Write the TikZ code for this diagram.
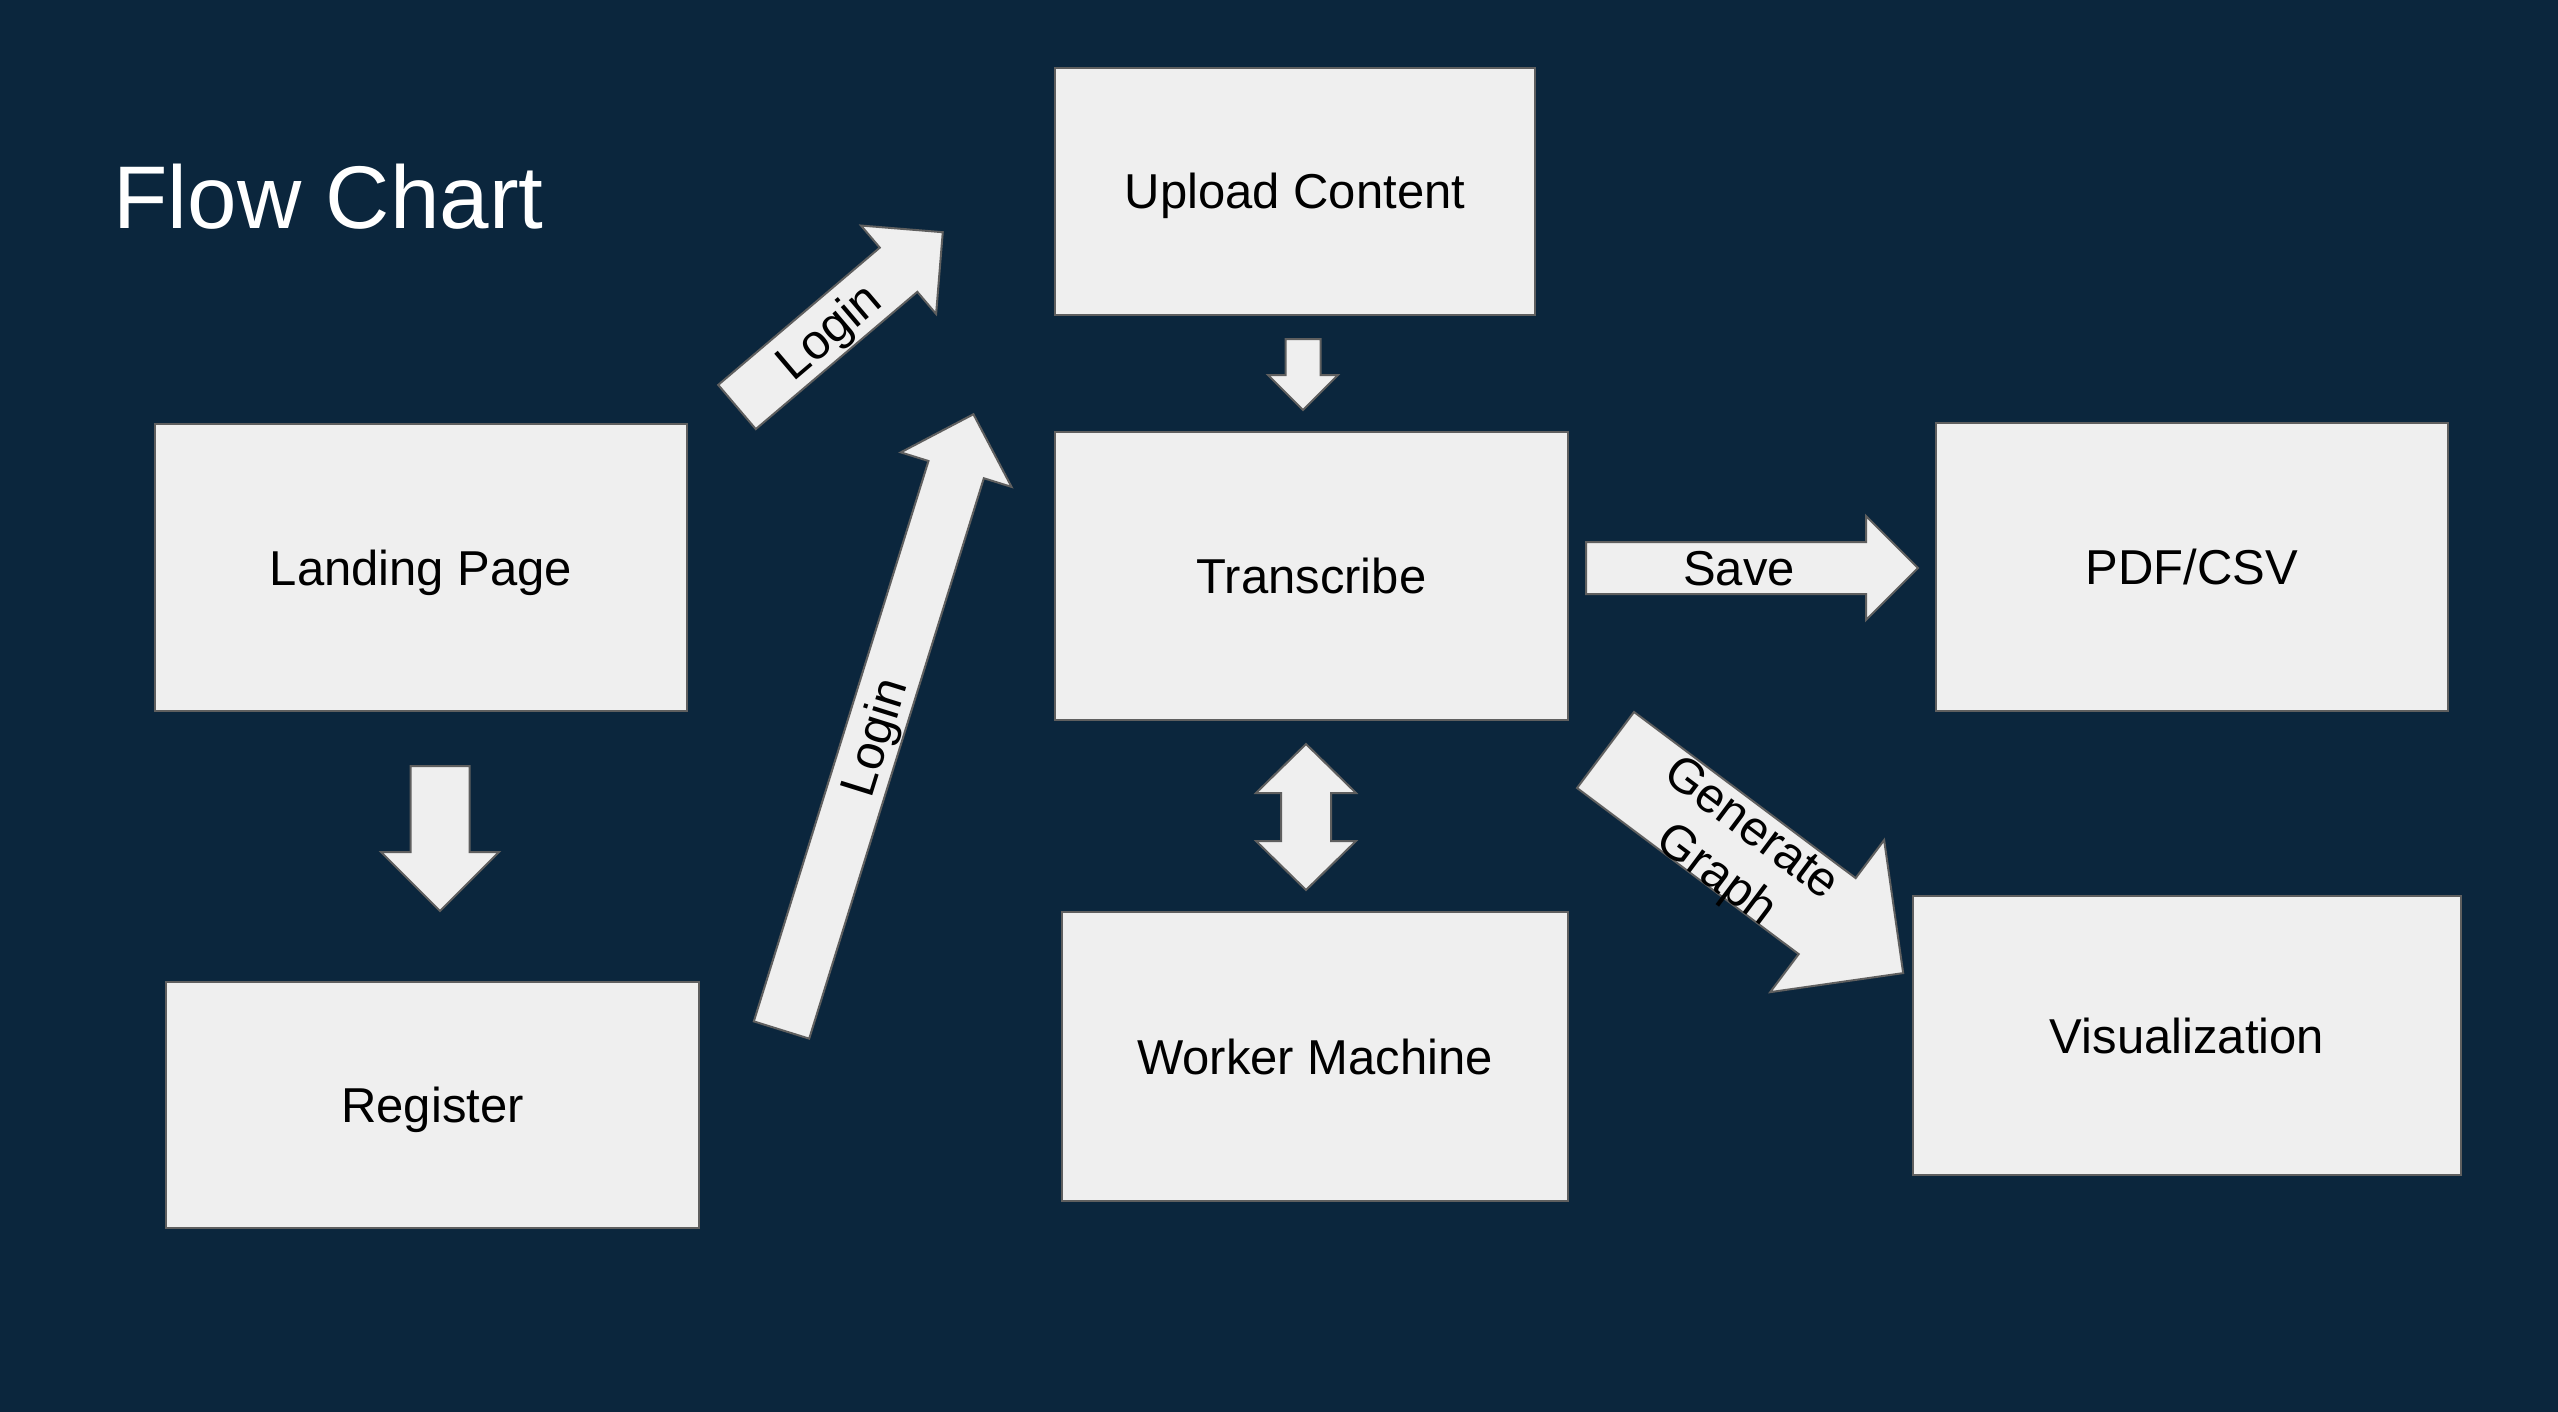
\documentclass[tikz,border=0pt]{standalone}
\usepackage{fontspec}
\setmainfont{Liberation Sans}
\usepackage{tikz}

\definecolor{slidebg}{RGB}{11,38,61}
\definecolor{boxfill}{RGB}{239,239,239}
\definecolor{boxline}{RGB}{95,95,95}

% block arrow along local x: length, shaft width
\newcommand{\blockarrow}[2]{%
  \draw[arrowbody] (0,-#2/2) -- ({#1-#2},-#2/2) -- ({#1-#2},-#2) -- (#1,0)
    -- ({#1-#2},#2) -- ({#1-#2},#2/2) -- (0,#2/2) -- cycle;}

\begin{document}
\begin{tikzpicture}[x=0.5pt, y=-0.5pt,
  box/.style={draw=boxline, fill=boxfill, line width=1pt, rectangle, inner sep=0pt,
    font=\fontsize{24.5}{29}\selectfont, text height=17.5pt, text depth=0pt},
  arrowbody/.style={draw=boxline, fill=boxfill, line width=1pt},
  arrowtext/.style={transform shape, inner sep=0pt, align=center,
    font=\fontsize{24.5}{29}\selectfont, text height=17.5pt, text depth=0pt}]
\useasboundingbox (0,0) rectangle (2558,1412);
\fill[slidebg] (0,0) rectangle (2558,1412);

\node[anchor=base west, inner sep=0pt, text=white, font=\fontsize{44.5}{53}\selectfont] (title) at (113,228.5) {Flow Chart};

% boxes
\node[box, minimum width=266pt, minimum height=143.5pt] (landing) at (421,567.5) {Landing Page};
\node[box, minimum width=266.5pt, minimum height=123pt] (register) at (432.5,1105) {Register};
\node[box, minimum width=240pt, minimum height=123.75pt] (upload) at (1295,191.5) {Upload Content};
\node[box, minimum width=256.5pt, minimum height=144pt] (transcribe) at (1311.5,576) {Transcribe};
\node[box, minimum width=256.25pt, minimum height=144pt] (pdfcsv) at (2192,567) {PDF/CSV};
\node[box, minimum width=253pt, minimum height=144.5pt] (worker) at (1315,1056.5) {Worker Machine};
\node[box, minimum width=274pt, minimum height=139.5pt] (visual) at (2187,1035.5) {Visualization};

% arrows
\begin{scope}[shift={(737,407)}, rotate=40.35]
  \blockarrow{270}{58}
  \node[arrowtext] (login1) at (119,0) {Login};
\end{scope}
\begin{scope}[shift={(781.5,1030)}, rotate=72.69]
  \blockarrow{645}{58}
  \node[arrowtext] (login2) at (307,0) {Login};
\end{scope}
\begin{scope}[shift={(440,766)}, rotate=-90]
  \blockarrow{145}{59}
\end{scope}
\begin{scope}[shift={(1303,339)}, rotate=-90]
  \blockarrow{71}{35}
\end{scope}
\begin{scope}[shift={(1586,568)}]
  \blockarrow{332}{52}
  \node[arrowtext] (save) at (153,0) {Save};
\end{scope}
\begin{scope}[shift={(1605.5,750)}, rotate=-36.85]
  \blockarrow{372}{95}
  \node[arrowtext] (graph) at (164,30) {Generate\\Graph};
\end{scope}
\begin{scope}[shift={(1306,817)}, rotate=90]
  \draw[arrowbody] (-73,0) -- (-24,-50) -- (-24,-25) -- (24,-25) -- (24,-50) -- (73,0)
    -- (24,50) -- (24,25) -- (-24,25) -- (-24,50) -- cycle;
\end{scope}
\end{tikzpicture}
\end{document}
